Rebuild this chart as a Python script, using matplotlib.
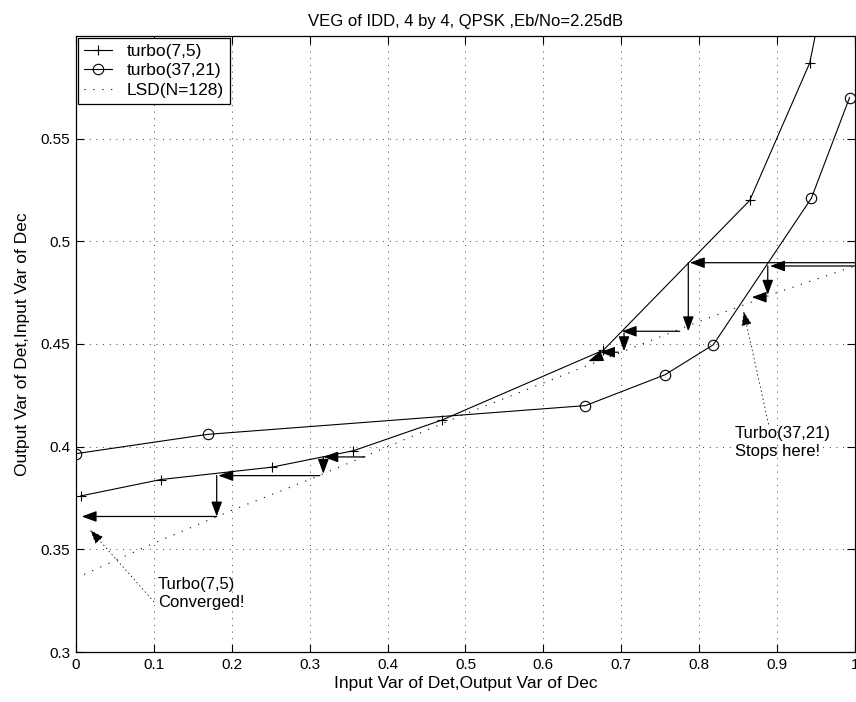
import numpy as np
import matplotlib
matplotlib.use("Agg")
import matplotlib.pyplot as plt

plt.rcParams['font.family'] = ['Liberation Sans', 'DejaVu Sans']
plt.rcParams['font.size'] = 11

# EXIT curves
t75_x = [0.006, 0.109, 0.251, 0.356, 0.470, 0.677, 0.865, 0.942, 0.962]
t75_y = [0.376, 0.384, 0.390, 0.398, 0.413, 0.447, 0.520, 0.587, 0.625]

t3721_x = [0.000, 0.169, 0.654, 0.756, 0.818, 0.944, 0.993]
t3721_y = [0.3966, 0.406, 0.420, 0.435, 0.4496, 0.521, 0.570]

lsd_x = [0.0, 0.1, 0.2, 0.3, 0.4, 0.5, 0.6, 0.7, 0.8, 0.9, 1.0]
lsd_y = [0.336, 0.353, 0.369, 0.384, 0.400, 0.416, 0.431, 0.446, 0.461, 0.475, 0.488]

# decoding trajectory arrows (start x, start y, tip x, tip y)
traj75 = [
    (1.000, 0.4896, 0.788, 0.4896),
    (0.786, 0.4896, 0.786, 0.4562),
    (0.775, 0.4562, 0.7005, 0.4562),
    (0.7035, 0.4553, 0.7035, 0.4465),
    (0.696, 0.4460, 0.6727, 0.4460),
    (0.670, 0.4434, 0.6577, 0.4416),
    (0.371, 0.3950, 0.3175, 0.3950),
    (0.3175, 0.3950, 0.3175, 0.3868),
    (0.313, 0.3859, 0.1827, 0.3859),
    (0.1806, 0.3859, 0.1806, 0.3660),
    (0.1806, 0.3660, 0.0073, 0.3660),
]
traj3721 = [
    (1.000, 0.4880, 0.891, 0.4880),
    (0.888, 0.4880, 0.888, 0.4740),
    (0.880, 0.4728, 0.8674, 0.4728),
]

fig = plt.figure(figsize=(8.56, 7.02), dpi=100)
ax = fig.add_axes([76/856, 1 - 652/702, 779/856, 616/702])

ax.plot(t75_x, t75_y, color='k', lw=0.8, marker='+', ms=7.5, mew=0.8, label='turbo(7,5)')
ax.plot(t3721_x, t3721_y, color='k', lw=0.8, marker='o', ms=7.5, mfc='none', mew=0.8,
        label='turbo(37,21)')
ax.plot(lsd_x, lsd_y, color='k', lw=0.8, linestyle=(0, (1, 7)), label='LSD(N=128)')

arrow_style = dict(arrowstyle='-|>,head_length=0.6,head_width=0.22', color='k', lw=0.9,
                   mutation_scale=15, shrinkA=0, shrinkB=0)
for x0, y0, x1, y1 in traj75 + traj3721:
    ax.annotate('', xy=(x1, y1), xytext=(x0, y0), arrowprops=arrow_style)

note_style = dict(arrowstyle='-|>,head_length=0.6,head_width=0.22', color='k', lw=0.6,
                  linestyle=(0, (1, 4)), mutation_scale=15, shrinkA=0, shrinkB=0)
ax.text(0.105, 0.3285, 'Turbo(7,5)\nConverged!', ha='left', va='center', fontsize=12,
        linespacing=1.25)
ax.annotate('', xy=(0.018, 0.3595), xytext=(0.100, 0.3245), arrowprops=note_style)
ax.text(0.846, 0.4018, 'Turbo(37,21)\nStops here!', ha='left', va='center', fontsize=12,
        linespacing=1.25)
ax.annotate('', xy=(0.857, 0.466), xytext=(0.889, 0.411), arrowprops=note_style)

ax.set_xlim(0, 1)
ax.set_ylim(0.3, 0.6)
ax.set_xticks(np.arange(0, 1.01, 0.1))
ax.set_xticklabels(['0', '0.1', '0.2', '0.3', '0.4', '0.5', '0.6', '0.7', '0.8', '0.9', '1'])
ax.set_yticks([0.3, 0.35, 0.4, 0.45, 0.5, 0.55])
ax.set_yticklabels(['0.3', '0.35', '0.4', '0.45', '0.5', '0.55'])
ax.tick_params(direction='in', length=6, width=0.8, top=True, right=True, labelsize=11, pad=4)
ax.grid(True, color='k', linestyle=(0, (1, 7)), lw=0.6)
for s in ax.spines.values():
    s.set_linewidth(0.9)

ax.set_title('VEG of IDD, 4 by 4, QPSK ,Eb/No=2.25dB', fontsize=12, pad=7)
ax.set_xlabel('Input Var of Det,Output Var of Dec', fontsize=12.5, labelpad=3)
ax.set_ylabel('Output Var of Det,Input Var of Dec', fontsize=12.5, labelpad=8)

leg = ax.legend(loc='upper left', fontsize=12.5, frameon=True, fancybox=False,
                edgecolor='k', framealpha=1, borderaxespad=0.1, handlelength=1.6,
                borderpad=0.35, labelspacing=0.25, handletextpad=0.85)
leg.get_frame().set_linewidth(0.9)

fig.savefig('out.png', dpi=100)
